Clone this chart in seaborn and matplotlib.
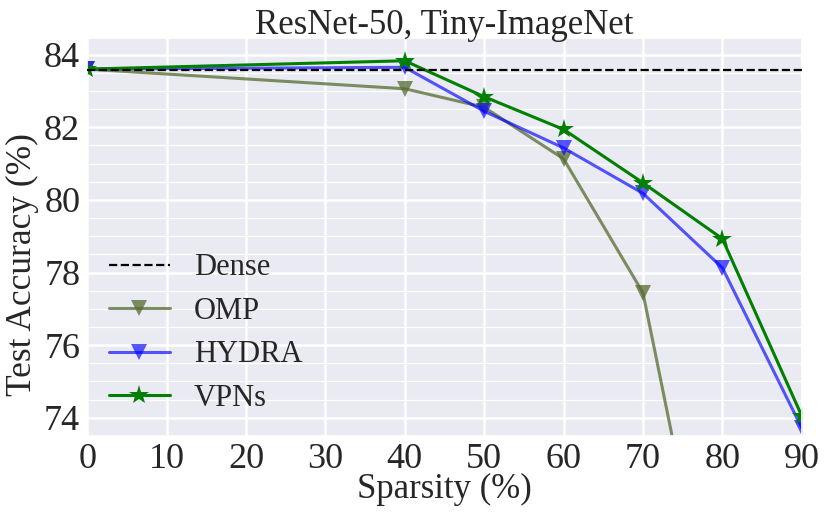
import seaborn as sns
from matplotlib import pyplot as plt
from matplotlib.ticker import AutoMinorLocator
import pandas as pd

# values
sparsity = [0, 40, 50, 60, 70, 80, 90]
dense_acc = 83.57
omp_sparsity = [0, 40, 50, 60, 70, 80]
omp_acc = [83.6, 83.06, 82.55, 81.13, 77.44, 66.7]
hydra_acc = [83.6, 83.65, 82.44, 81.43, 80.18, 78.13, 73.72]
vpns_acc = [83.6, 83.83, 82.84, 81.94, 80.47, 78.93, 74.05]

if __name__ == "__main__":
	sns.set_theme(style="darkgrid")
	plt.rcParams["font.family"] = ["Liberation Serif", "DejaVu Serif"]

	fig, ax = plt.subplots(figsize=(8.3, 5.19), dpi=100)
	fig.subplots_adjust(left=0.105, right=0.966, top=0.927, bottom=0.160)

	ax.axhline(dense_acc, linestyle="--", color="black", lw=1.6, label="Dense", zorder=3)
	omp = pd.DataFrame({"x": omp_sparsity, "y": omp_acc})
	sns.lineplot(data=omp, x="x", y="y", ax=ax, color="darkolivegreen", alpha=0.75,
		marker="v", markersize=12, markeredgewidth=0, lw=2.2, label="OMP")
	sns.lineplot(x=sparsity, y=hydra_acc, ax=ax, color="blue", alpha=0.65,
		marker="v", markersize=12, markeredgewidth=0, lw=2.2, label="HYDRA")
	sns.lineplot(x=sparsity, y=vpns_acc, ax=ax, color="green",
		marker="*", markersize=15, markeredgewidth=0, lw=2.2, label="VPNs")

	ax.set_xlim([0, 90])
	ax.set_ylim([73.5, 84.46])
	ax.set_xticks(range(0, 91, 10))
	ax.set_yticks([74, 76, 78, 80, 82, 84])
	ax.yaxis.set_minor_locator(AutoMinorLocator(4))
	ax.grid(which="major", color="white", lw=1.8)
	ax.grid(which="minor", axis="y", color="white", lw=0.9)
	ax.tick_params(axis="both", which="both", labelsize=26, length=0, pad=5)

	ax.set_title("ResNet-50, Tiny-ImageNet", fontsize=25, pad=3)
	ax.set_xlabel("Sparsity (%)", fontsize=25, labelpad=-2)
	ax.set_ylabel("Test Accuracy (%)", fontsize=25.5)
	ax.yaxis.set_label_coords(-0.068, 0.43)
	ax.legend(loc="lower left", bbox_to_anchor=(0.0, 0.005), frameon=False, fontsize=22,
		handlelength=2.0, handletextpad=0.8, labelspacing=0.47, borderpad=0.2)

	fig.savefig("out.png", dpi=100)
